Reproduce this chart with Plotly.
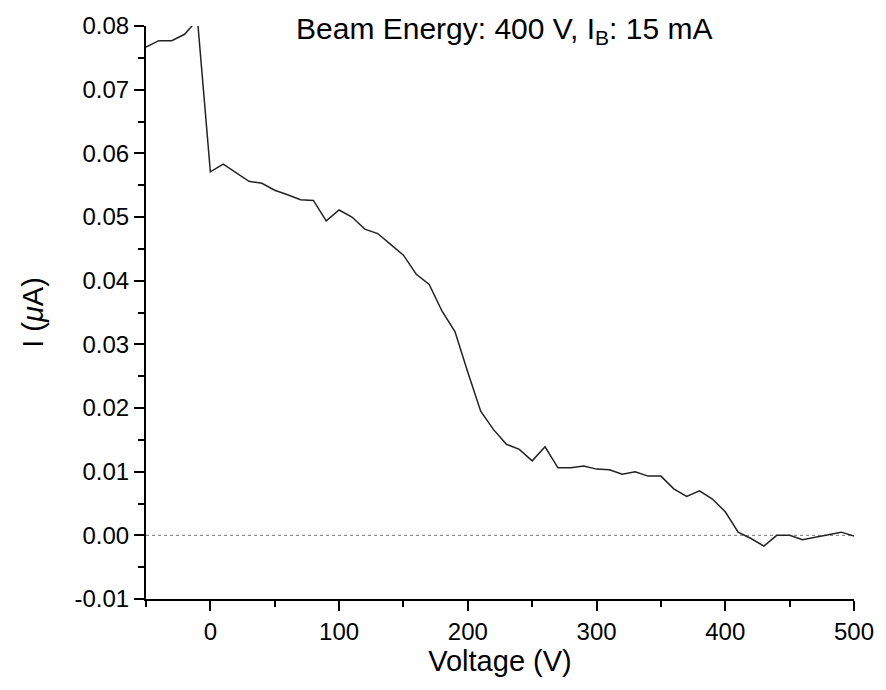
import plotly.graph_objects as go

voltage = [-50, -40, -30, -20, -10, 0, 10, 20, 30, 40, 50, 60, 70, 80, 90, 100,
           110, 120, 130, 140, 150, 160, 170, 180, 190, 200, 210, 220, 230, 240,
           250, 260, 270, 280, 290, 300, 310, 320, 330, 340, 350, 360, 370, 380,
           390, 400, 410, 420, 430, 440, 450, 460, 470, 480, 490, 500]
current = [0.0767, 0.0777, 0.0777, 0.0787, 0.0810, 0.0571, 0.0583, 0.0569, 0.0556,
           0.0553, 0.0542, 0.0535, 0.0527, 0.0526, 0.0494, 0.0511, 0.0500, 0.0481,
           0.0474, 0.0457, 0.0440, 0.0410, 0.0394, 0.0352, 0.0320, 0.0256, 0.0195,
           0.0166, 0.0143, 0.0135, 0.0117, 0.0139, 0.0106, 0.0106, 0.0109, 0.0104,
           0.0103, 0.0096, 0.0100, 0.0093, 0.0093, 0.0073, 0.0061, 0.0070, 0.0057,
           0.0037, 0.0005, -0.0005, -0.0017, 0.0000, 0.0000, -0.0007, -0.0003,
           0.0000, 0.0005, -0.0001]

zero_x = [-50, 500]
zero_y = [0, 0]

x_tickvals = [0, 100, 200, 300, 400, 500]
x_ticktext = ["0", "100", "200", "300", "400", "500"]
y_tickvals = [-0.01, 0.0, 0.01, 0.02, 0.03, 0.04, 0.05, 0.06, 0.07, 0.08]
y_ticktext = ["-0.01", "0.00", "0.01", "0.02", "0.03", "0.04", "0.05", "0.06", "0.07", "0.08"]

title_text = "Beam Energy: 400 V, I<sub>B</sub>: 15 mA"

FONT = "Liberation Sans, Arial, Helvetica, sans-serif"

fig = go.Figure()
fig.add_trace(go.Scatter(x=zero_x, y=zero_y, mode="lines",
                         line=dict(color="#777777", width=1, dash="3px,3px"),
                         hoverinfo="skip", showlegend=False))
fig.add_trace(go.Scatter(x=voltage, y=current, mode="lines",
                         line=dict(color="#222222", width=1.5),
                         showlegend=False))

fig.update_layout(
    width=886, height=690,
    margin=dict(l=146, r=22, t=23, b=91),
    paper_bgcolor="white", plot_bgcolor="white",
    font=dict(family=FONT, color="black", size=24),
    showlegend=False,
    annotations=[dict(text=title_text, xref="paper", yref="paper",
                      x=0.505, y=0.993, xanchor="center", yanchor="middle",
                      showarrow=False, font=dict(family=FONT, size=30, color="black"))],
)
fig.update_xaxes(
    range=[-50, 500], showgrid=False, zeroline=False,
    showline=True, linecolor="black", linewidth=2,
    ticks="outside", ticklen=10, tickwidth=2, tickcolor="black",
    tickvals=x_tickvals, ticktext=x_ticktext,
    tickfont=dict(size=24),
    minor=dict(ticks="outside", ticklen=6, tickwidth=2, tickcolor="black",
               tickvals=[-50, 50, 150, 250, 350, 450], showgrid=False),
    title=dict(text="Voltage (V)", font=dict(size=29), standoff=2),
)
fig.update_yaxes(
    range=[-0.01, 0.08], showgrid=False, zeroline=False,
    showline=True, linecolor="black", linewidth=2,
    ticks="outside", ticklen=10, tickwidth=2, tickcolor="black",
    tickvals=y_tickvals, ticktext=y_ticktext,
    tickfont=dict(size=24),
    minor=dict(ticks="outside", ticklen=6, tickwidth=2, tickcolor="black",
               tickvals=[-0.005, 0.005, 0.015, 0.025, 0.035, 0.045, 0.055, 0.065, 0.075],
               showgrid=False),
    title=dict(text="I (<i>μ</i>A)", font=dict(size=29), standoff=22),
)

fig.write_html("out.html")
